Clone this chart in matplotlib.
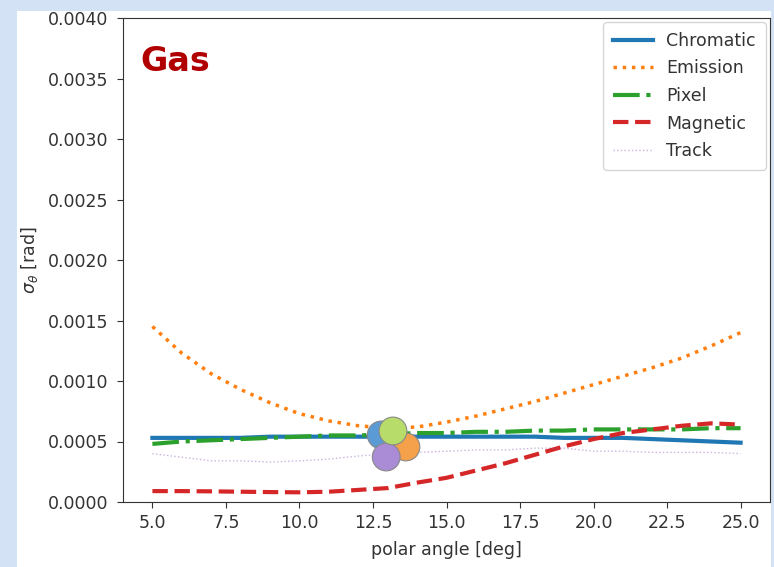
import matplotlib.pyplot as plt
from matplotlib.patches import Rectangle

# polar angle grid [deg]
angle = [5, 6, 7, 8, 9, 10, 11, 12, 13, 14, 15, 16, 17, 18, 19, 20, 21, 22, 23, 24, 25]

chromatic = [0.00053, 0.00053, 0.00053, 0.00053, 0.00054, 0.00054, 0.00054, 0.00054, 0.00054, 0.00054,
             0.00054, 0.00054, 0.00054, 0.00054, 0.00053, 0.00053, 0.00053, 0.00052, 0.00051, 0.00050, 0.00049]
emission = [0.00145, 0.00123, 0.00106, 0.00093, 0.00082, 0.00073, 0.00067, 0.00063, 0.00061, 0.00062,
            0.00066, 0.00071, 0.00077, 0.00083, 0.00090, 0.00097, 0.00104, 0.00111, 0.00119, 0.00129, 0.00140]
pixel = [0.00048, 0.00050, 0.00051, 0.00052, 0.00053, 0.00054, 0.00055, 0.00055, 0.00056, 0.00057,
         0.00057, 0.00058, 0.00058, 0.00059, 0.00059, 0.00060, 0.00060, 0.00060, 0.00060, 0.00061, 0.00061]
magnetic = [0.00009, 0.00009, 0.000088, 0.000085, 0.000082, 0.00008, 0.000085, 0.0001, 0.000115, 0.00016,
            0.00020, 0.00026, 0.00032, 0.00039, 0.00046, 0.00052, 0.00057, 0.00060, 0.00063, 0.00065, 0.00064]
track = [0.00040, 0.00037, 0.00034, 0.00034, 0.00033, 0.00034, 0.000355, 0.00038, 0.00040, 0.00041,
         0.00042, 0.00043, 0.00043, 0.000445, 0.000445, 0.00042, 0.00042, 0.00041, 0.00041, 0.00041, 0.00040]

# overlay circles (clip-art markers)
blob_x = [12.78, 13.62, 12.95, 13.18]
blob_y = [0.000554, 0.000455, 0.000372, 0.000587]
blob_colors = ['#5b9bd5', '#f5a04a', '#a98bd6', '#b8dc6a']

yticks = [0.0, 0.0005, 0.0010, 0.0015, 0.0020, 0.0025, 0.0030, 0.0035, 0.0040]


def main():
    plt.rcParams['font.size'] = 12.5
    plt.rcParams['text.color'] = '#333333'
    plt.rcParams['axes.labelcolor'] = '#333333'
    plt.rcParams['xtick.color'] = '#333333'
    plt.rcParams['ytick.color'] = '#333333'
    plt.rcParams['axes.edgecolor'] = '#333333'
    plt.rcParams['xtick.major.size'] = 4.5
    plt.rcParams['ytick.major.size'] = 4.5
    plt.rcParams['xtick.major.pad'] = 4.5
    plt.rcParams['ytick.major.pad'] = 6

    fig = plt.figure(figsize=(7.74, 5.67), dpi=100, facecolor='#d3e3f5')
    fig.patches.append(Rectangle((17 / 774, 0), 754 / 774, 556 / 567, transform=fig.transFigure,
                                 facecolor='white', edgecolor='none', zorder=-10))
    ax = fig.add_axes([123 / 774, 65 / 567, 647 / 774, 484 / 567])

    ax.plot(angle, chromatic, '-', color='tab:blue', lw=3, label='Chromatic')
    ax.plot(angle, emission, ':', color='tab:orange', lw=2.5, label='Emission')
    ax.plot(angle, pixel, '-.', color='tab:green', lw=3, label='Pixel')
    ax.plot(angle, magnetic, '--', color='tab:red', lw=3, label='Magnetic')
    ax.plot(angle, track, ':', color='tab:purple', lw=1, alpha=0.5, label='Track')

    ax.scatter(blob_x, blob_y, s=400, c=blob_colors, edgecolors='#888888', linewidths=0.8, zorder=5)

    ax.set_ylim(0, 0.004)
    ax.set_yticks(yticks)
    ax.yaxis.set_major_formatter(plt.FormatStrFormatter('%.4f'))
    ax.set_xlabel('polar angle [deg]', labelpad=6)
    ax.set_ylabel(r'$\sigma_\theta$ [rad]', labelpad=6)
    ax.text(0.027, 0.91, 'Gas', transform=ax.transAxes, fontsize=24, fontweight='bold',
            color='#b00000', va='center', ha='left')
    ax.legend(loc='upper right', fontsize=12.5, borderaxespad=0.25, borderpad=0.55,
              labelspacing=0.55, handlelength=2.3)

    fig.savefig('out.png', dpi=100, facecolor=fig.get_facecolor())


if __name__ == "__main__":
    main()
